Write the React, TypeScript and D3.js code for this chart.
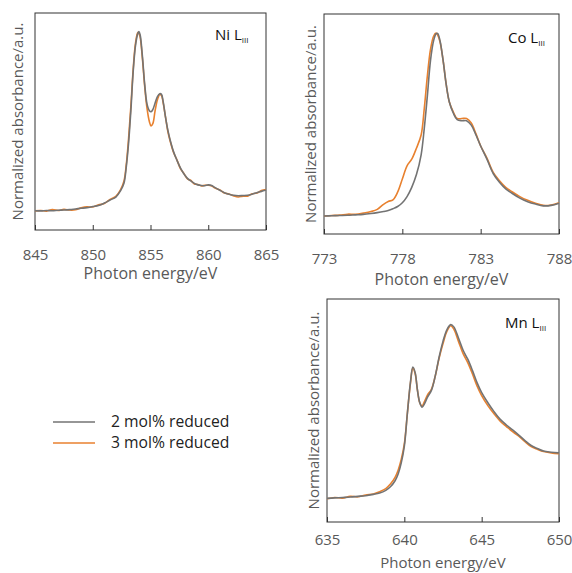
import React, { useRef, useEffect } from "react";
import * as d3 from "d3";

// Ni L-III edge
const niEnergy = [845, 845.5, 846, 846.5, 847, 847.5, 848, 848.5, 849, 849.5, 850, 850.5, 851, 851.5, 852, 852.4, 852.7, 852.9, 853.1, 853.3, 853.5, 853.7, 853.9, 854.0, 854.1, 854.3, 854.5, 854.7, 854.9, 855.05, 855.2, 855.4, 855.6, 855.8, 855.95, 856.1, 856.3, 856.5, 856.7, 857.0, 857.3, 857.6, 857.9, 858.2, 858.5, 858.8, 859.1, 859.4, 859.7, 860.0, 860.3, 860.6, 861.0, 861.4, 861.8, 862.2, 862.6, 863.0, 863.4, 863.8, 864.2, 864.6, 865];
const niGray = [0.089, 0.088, 0.090, 0.089, 0.091, 0.092, 0.094, 0.097, 0.100, 0.103, 0.108, 0.113, 0.124, 0.138, 0.152, 0.180, 0.215, 0.29, 0.40, 0.55, 0.73, 0.85, 0.905, 0.914, 0.90, 0.80, 0.67, 0.58, 0.55, 0.545, 0.555, 0.585, 0.615, 0.628, 0.625, 0.59, 0.52, 0.46, 0.415, 0.36, 0.32, 0.285, 0.258, 0.238, 0.226, 0.215, 0.208, 0.205, 0.204, 0.208, 0.205, 0.195, 0.183, 0.172, 0.165, 0.160, 0.158, 0.159, 0.160, 0.165, 0.172, 0.178, 0.184];
const niOrange = [0.088, 0.090, 0.087, 0.094, 0.090, 0.095, 0.092, 0.093, 0.102, 0.107, 0.106, 0.116, 0.122, 0.141, 0.155, 0.185, 0.225, 0.30, 0.42, 0.57, 0.74, 0.86, 0.91, 0.905, 0.89, 0.79, 0.66, 0.56, 0.50, 0.48, 0.49, 0.55, 0.60, 0.625, 0.62, 0.585, 0.52, 0.455, 0.41, 0.357, 0.322, 0.282, 0.26, 0.235, 0.228, 0.212, 0.210, 0.203, 0.206, 0.206, 0.203, 0.193, 0.185, 0.170, 0.166, 0.157, 0.152, 0.156, 0.156, 0.167, 0.170, 0.182, 0.186];

// Co L-III edge
const coEnergy = [773, 773.5, 774, 774.5, 775, 775.5, 776, 776.4, 776.8, 777.1, 777.4, 777.7, 778.0, 778.3, 778.6, 778.9, 779.2, 779.4, 779.6, 779.8, 780.0, 780.15, 780.25, 780.4, 780.6, 780.8, 781.0, 781.25, 781.5, 781.8, 782.1, 782.4, 782.7, 783.0, 783.4, 783.8, 784.2, 784.6, 785.0, 785.5, 786.0, 786.5, 787.0, 787.5, 788];
const coGray = [0.082, 0.083, 0.084, 0.085, 0.087, 0.089, 0.093, 0.097, 0.102, 0.107, 0.115, 0.125, 0.142, 0.170, 0.212, 0.270, 0.36, 0.48, 0.63, 0.79, 0.88, 0.91, 0.912, 0.88, 0.79, 0.68, 0.60, 0.55, 0.52, 0.515, 0.515, 0.495, 0.45, 0.40, 0.34, 0.275, 0.235, 0.205, 0.185, 0.163, 0.147, 0.136, 0.128, 0.130, 0.140];
const coOrange = [0.082, 0.084, 0.086, 0.090, 0.090, 0.095, 0.102, 0.112, 0.135, 0.148, 0.155, 0.19, 0.25, 0.31, 0.34, 0.39, 0.45, 0.57, 0.72, 0.84, 0.90, 0.913, 0.905, 0.875, 0.79, 0.68, 0.60, 0.555, 0.525, 0.525, 0.525, 0.505, 0.455, 0.40, 0.345, 0.28, 0.242, 0.212, 0.192, 0.170, 0.153, 0.140, 0.130, 0.132, 0.142];

// Mn L-III edge
const mnEnergy = [635, 635.5, 636, 636.5, 637, 637.5, 638, 638.4, 638.8, 639.1, 639.4, 639.6, 639.8, 640.0, 640.2, 640.4, 640.55, 640.7, 640.85, 641.0, 641.15, 641.3, 641.5, 641.75, 642.0, 642.25, 642.5, 642.75, 643.0, 643.2, 643.5, 643.8, 644.1, 644.4, 644.7, 645.0, 645.4, 645.8, 646.2, 646.6, 647.0, 647.4, 647.8, 648.2, 648.6, 649.0, 649.5, 650];
const mnGray = [0.106, 0.108, 0.110, 0.112, 0.115, 0.118, 0.124, 0.130, 0.142, 0.158, 0.185, 0.215, 0.265, 0.34, 0.49, 0.63, 0.695, 0.67, 0.59, 0.535, 0.515, 0.53, 0.56, 0.59, 0.655, 0.74, 0.81, 0.862, 0.885, 0.875, 0.825, 0.77, 0.73, 0.68, 0.625, 0.58, 0.535, 0.495, 0.46, 0.435, 0.413, 0.39, 0.365, 0.343, 0.33, 0.318, 0.313, 0.31];
const mnOrange = [0.104, 0.110, 0.107, 0.115, 0.113, 0.121, 0.126, 0.136, 0.150, 0.170, 0.200, 0.232, 0.28, 0.35, 0.49, 0.625, 0.69, 0.665, 0.59, 0.535, 0.52, 0.54, 0.57, 0.595, 0.655, 0.735, 0.80, 0.855, 0.88, 0.865, 0.81, 0.755, 0.715, 0.665, 0.61, 0.567, 0.522, 0.485, 0.452, 0.428, 0.405, 0.385, 0.36, 0.338, 0.326, 0.316, 0.310, 0.306];

const niTicks = [845, 850, 855, 860, 865];
const coTicks = [773, 778, 783, 788];
const mnTicks = [635, 640, 645, 650];

const seriesNames = ["2 mol% reduced", "3 mol% reduced"];
const seriesColors = ["#737373", "#e8812f"];

const font = "'Open Sans', sans-serif";
const textColor = "#595959";

export default function App() {
    const ref = useRef(null);

    useEffect(() => {
        if (!ref.current) return;
        const svg = d3.select(ref.current);
        svg.selectAll("*").remove();

        const panels = [
            { el: "Ni", energy: niEnergy, gray: niGray, orange: niOrange, ticks: niTicks, left: 35, right: 266, top: 13, bottom: 230, yLabelX: 18, labelX: 215, labelY: 40, titleY: 279, pad: 19, titleSize: 16 },
            { el: "Co", energy: coEnergy, gray: coGray, orange: coOrange, ticks: coTicks, left: 324, right: 559, top: 14, bottom: 234, yLabelX: 311, labelX: 508, labelY: 43, titleY: 285, pad: 19, titleSize: 16 },
            { el: "Mn", energy: mnEnergy, gray: mnGray, orange: mnOrange, ticks: mnTicks, left: 327, right: 559, top: 299, bottom: 522, yLabelX: 314, labelX: 505, labelY: 328, titleY: 568, pad: 12, titleSize: 15 },
        ];

        panels.forEach(p => {
            const x = d3.scaleLinear()
                .domain([p.ticks[0], p.ticks[p.ticks.length - 1]])
                .range([p.left, p.right]);
            const y = d3.scaleLinear().domain([0, 1]).range([p.bottom, p.top]);
            const g = svg.append("g");

            // x axis: inward ticks, labels below
            g.append("g")
                .attr("transform", `translate(0,${p.bottom})`)
                .call(d3.axisBottom(x).tickValues(p.ticks).tickSizeInner(-5).tickSizeOuter(0).tickPadding(p.pad).tickFormat(d3.format("d")))
                .call(a => a.select(".domain").remove())
                .call(a => a.selectAll("line").attr("stroke", "#333"))
                .call(a => a.selectAll("text").attr("fill", textColor).attr("font-family", font).attr("font-size", 15));

            g.append("rect")
                .attr("x", p.left).attr("y", p.top)
                .attr("width", p.right - p.left).attr("height", p.bottom - p.top)
                .attr("fill", "none").attr("stroke", "#333").attr("stroke-width", 1);

            const line = d3.line<number>()
                .x((d, i) => x(p.energy[i]))
                .y(d => y(d))
                .curve(d3.curveCatmullRom);

            g.append("path").datum(p.orange)
                .attr("d", line).attr("fill", "none")
                .attr("stroke", seriesColors[1]).attr("stroke-width", 1.6);
            g.append("path").datum(p.gray)
                .attr("d", line).attr("fill", "none")
                .attr("stroke", seriesColors[0]).attr("stroke-width", 1.6);

            g.append("text")
                .attr("x", (p.left + p.right) / 2).attr("y", p.titleY)
                .attr("text-anchor", "middle")
                .attr("fill", textColor).attr("font-family", font).attr("font-size", p.titleSize)
                .text("Photon energy/eV");

            g.append("text")
                .attr("transform", `translate(${p.yLabelX},${(p.top + p.bottom) / 2}) rotate(-90)`)
                .attr("text-anchor", "middle").attr("dy", "0.35em")
                .attr("fill", textColor).attr("font-family", font).attr("font-size", 15)
                .text("Normalized absorbance/a.u.");

            const lbl = g.append("text")
                .attr("x", p.labelX).attr("y", p.labelY)
                .attr("fill", "#111").attr("font-family", font).attr("font-size", 15);
            lbl.append("tspan").text(p.el + " L");
            lbl.append("tspan").attr("font-size", 8).attr("dy", 3).attr("fill", "#111").text("III");
        });

        // legend
        const legend = svg.append("g");
        seriesNames.forEach((name, i) => {
            const yy = 422 + i * 21;
            legend.append("line")
                .attr("x1", 53).attr("x2", 95).attr("y1", yy).attr("y2", yy)
                .attr("stroke", seriesColors[i]).attr("stroke-width", 1.6);
            legend.append("text")
                .attr("x", 111).attr("y", yy).attr("dy", "0.35em")
                .attr("fill", "#222").attr("font-family", font).attr("font-size", 15.7)
                .text(name);
        });
    }, []);

    return (
        <svg ref={ref} width={572} height={573}
            style={{ position: "absolute", left: 0, top: 0, background: "#fff" }} />
    );
}
